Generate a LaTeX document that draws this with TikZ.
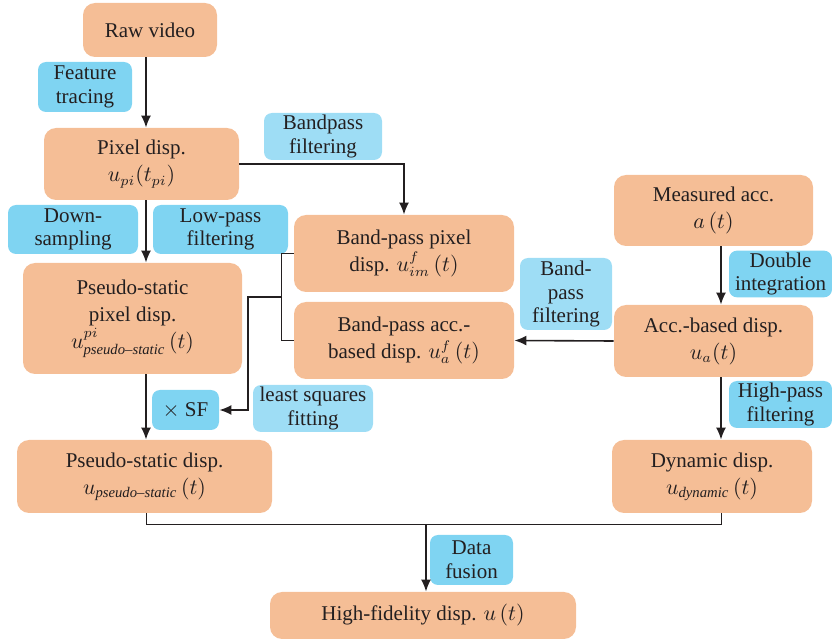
\documentclass[tikz,border=0pt]{standalone}
\usepackage{amsmath,amssymb}
\usepackage{fontspec}
\setmainfont{Liberation Serif}
\usepackage{tikz}
\usepackage{xcolor}
\usetikzlibrary{arrows.meta}

\definecolor{boxorange}{HTML}{F5BE96}
\definecolor{tagblue}{HTML}{7FD4F2}
\definecolor{taglight}{HTML}{9EDDF5}
\definecolor{inkgray}{HTML}{231F20}

\begin{document}
\begin{tikzpicture}[x=0.5pt,y=-0.5pt,
    box/.style={fill=boxorange,rounded corners=6pt,align=center,inner sep=1pt,text=inkgray,font=\fontsize{10.5}{13.5}\selectfont},
    tag/.style={fill=tagblue,rounded corners=4pt,align=center,inner sep=1pt,text=inkgray,font=\fontsize{10.5}{11.8}\selectfont},
    tagl/.style={tag,fill=taglight},
    arr/.style={-{Latex[length=6pt,width=5pt]},line width=0.8pt,draw=inkgray},
    brace/.style={line width=0.5pt,draw=inkgray}]
    \useasboundingbox (0,0) rectangle (832,642);
    \coordinate (spine) at (146,0);
    \coordinate (rspine) at (721,0);

    % Camera branch
    \node[box,minimum width=67pt,minimum height=27pt] (raw) at (150,30) {Raw video};
    \node[tag,minimum width=47pt,minimum height=25pt] (feat) at (85,87) {Feature\\tracing};
    \node[box,minimum width=97.5pt,minimum height=36pt] (pix) at (141.5,164) {Pixel disp.\\$u_{pi}(t_{pi})$};
    \draw[arr] (raw.south -| spine) -- (pix.north -| spine);

    \node[tag,minimum width=65pt,minimum height=24.5pt] (down) at (73,229.5) {Down-\\sampling};
    \node[tag,minimum width=67.5pt,minimum height=24.5pt] (lowp) at (220.5,229.5) {Low-pass\\filtering};
    \node[box,minimum width=109.5pt,minimum height=55.5pt] (pspix) at (132.5,318.5) {Pseudo-static\\pixel disp.\\$u^{pi}_{\textit{pseudo--static}}\,(t)$};
    \draw[arr] (pix.south -| spine) -- (pspix.north -| spine);

    \node[tag,minimum width=33.5pt,minimum height=20pt] (sf) at (185.5,410) {$\times$ SF};
    \node[tagl,minimum width=60pt,minimum height=23.5pt] (lsq) at (313,408.5) {least squares\\fitting};
    \node[box,minimum width=127.5pt,minimum height=36.5pt] (psd) at (144.5,476.5) {Pseudo-static disp.\\$u_{\textit{pseudo--static}}\,(t)$};
    \draw[arr] (pspix.south -| spine) -- (psd.north -| spine);

    % Band-pass pair
    \node[tagl,minimum width=59pt,minimum height=23.5pt] (bpf) at (323,136.5) {Bandpass\\filtering};
    \node[box,minimum width=110pt,minimum height=38.5pt] (bpp) at (404,253.5) {Band-pass pixel\\disp. $u^{f}_{im}\,(t)$};
    \node[box,minimum width=110pt,minimum height=38.5pt] (bpa) at (404,340.5) {Band-pass acc.-\\based disp. $u^{f}_{a}\,(t)$};
    \draw[arr] (pix.east) -| (bpp.north);
    \draw[brace] (bpp.west) -- ++(-12,0) |- (bpa.west);
    \coordinate (brk) at (282,297);
    \draw[arr] (brk) -- ++(-34,0) |- (sf.east);

    % Accelerometer branch
    \node[box,minimum width=99.5pt,minimum height=35.5pt] (meas) at (713.5,210.5) {Measured acc.\\$a\,(t)$};
    \node[tag,minimum width=51.5pt,minimum height=23pt] (dbl) at (780.5,274) {Double\\integration};
    \node[box,minimum width=99.5pt,minimum height=36pt] (accd) at (713.5,341) {Acc.-based disp.\\$u_{a}(t)$};
    \draw[arr] (meas.south -| rspine) -- (accd.north -| rspine);
    \node[tagl,minimum width=46pt,minimum height=36pt] (bpf2) at (566,294) {Band-\\pass\\filtering};
    \draw[arr] (accd.west) -- (bpa.east);
    \node[tag,minimum width=51.5pt,minimum height=23.5pt] (hpf) at (780.5,404.5) {High-pass\\filtering};
    \node[box,minimum width=100pt,minimum height=36.5pt] (dyn) at (712,476.5) {Dynamic disp.\\$u_{\textit{dynamic}}\,(t)$};
    \draw[arr] (accd.south -| rspine) -- (dyn.north -| rspine);

    % Fusion
    \draw[brace] (psd.south -| spine) -- ++(0,11) -| (dyn.south -| rspine);
    \coordinate (fuse) at (426,524);
    \node[tag,minimum width=41.5pt,minimum height=25pt] (fus) at (471.5,560) {Data\\fusion};
    \node[box,minimum width=153pt,minimum height=23.5pt] (hf) at (423,615.5) {High-fidelity disp. $u\,(t)$};
    \draw[arr] (fuse) -- (hf.north -| fuse);
\end{tikzpicture}
\end{document}
